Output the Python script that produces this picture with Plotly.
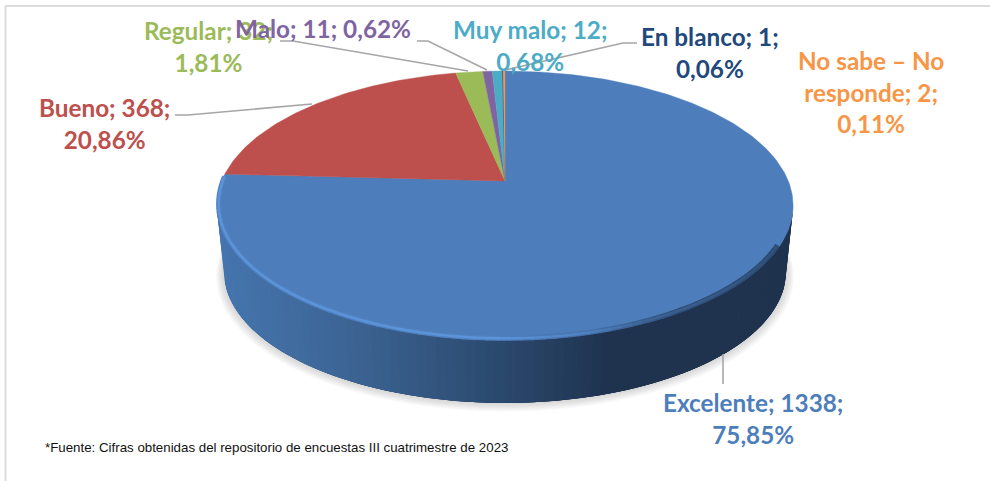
import math
import plotly.graph_objects as go

categories = ["Excelente", "Bueno", "Regular", "Malo", "Muy malo", "En blanco", "No sabe – No responde"]
values = [1338, 368, 32, 11, 12, 1, 2]
percents = ["75,85%", "20,86%", "1,81%", "0,62%", "0,68%", "0,06%", "0,11%"]
colors = ["#4d7ebb", "#bd4f4c", "#9bbb59", "#8064a2", "#4bacc6", "#1f497d", "#f79646"]
label_text = [
    "Excelente; 1338;<br>75,85%",
    "Bueno; 368;<br>20,86%",
    "Regular; 32;<br>1,81%",
    "Malo; 11; 0,62%",
    "Muy malo; 12;<br>0,68%",
    "En blanco; 1;<br>0,06%",
    "No sabe – No<br>responde; 2;<br>0,11%",
]
label_pos = [(753, 418), (104, 123), (208, 46), (323, 28), (530, 45), (710, 52), (871, 92)]
footnote = "*Fuente: Cifras obtenidas del repositorio de encuestas III cuatrimestre de 2023"

CX, CY, A, B, K = 505, 181, 283.3, 130, 0.182
BOTTOM_CY, BOTTOM_S = 248, 0.975


def top(theta):
    u, v = math.sin(theta), math.cos(theta)
    w = 1 + K * v
    return CX + A * u / w, CY - B * v / w


def bottom(theta, s=BOTTOM_S, cy=BOTTOM_CY):
    u, v = math.sin(theta), math.cos(theta)
    w = 1 + K * v
    return CX + s * A * u / w, cy - s * B * v / w


def arc(fn, t0, t1, n=360):
    steps = max(2, int(abs(t1 - t0) / (2 * math.pi) * n) + 1)
    pts = [fn(t0 + (t1 - t0) * i / steps) for i in range(steps + 1)]
    return [p[0] for p in pts], [p[1] for p in pts]


def lerp_color(stops, x):
    for (x0, c0), (x1, c1) in zip(stops, stops[1:]):
        if x <= x1:
            f = max(0, (x - x0) / (x1 - x0))
            break
    else:
        c0 = c1 = stops[-1][1]
        f = 0
    return "rgb(%d,%d,%d)" % tuple(c0[i] + (c1[i] - c0[i]) * f for i in range(3))


fig = go.Figure()


def add(x, y, **kw):
    kw.setdefault("mode", "lines")
    kw.setdefault("hoverinfo", "skip")
    kw.setdefault("showlegend", False)
    fig.add_trace(go.Scatter(x=x, y=y, **kw))


# soft shadow under the disc
for i in range(7):
    s = BOTTOM_S + 0.004 * (7 - i)
    xs, ys = arc(lambda t: bottom(t, s, BOTTOM_CY + 0.6 * (7 - i)), 0, 2 * math.pi)
    add(xs, ys, fill="toself", fillcolor="rgba(120,120,120,0.045)", line=dict(width=0))

# side wall: solid underlay, then overlapping strips of a gradient along the front
side_stops = [(215, (70, 118, 176)), (350, (61, 101, 149)), (500, (44, 74, 111)),
              (620, (31, 50, 78)), (800, (31, 50, 78))]
N = 96
t_start = math.pi * 0.5 + math.asin(K)
t_end = math.pi * 1.5 - math.asin(K)
xa, ya = arc(top, t_start, t_end)
xb, yb = arc(bottom, t_end, t_start)
add(xa + xb, ya + yb, fill="toself", fillcolor="rgb(50,84,124)", line=dict(width=0))
for i in range(N):
    t0 = t_start + (t_end - t_start) * i / N
    t1 = min(t_end, t_start + (t_end - t_start) * (i + 3) / N)
    xa, ya = arc(top, t0, t1)
    xb, yb = arc(bottom, t1, t0)
    col = lerp_color(side_stops, top(t0)[0])
    add(xa + xb, ya + yb, fill="toself", fillcolor=col, line=dict(width=0))

# top face: wedges, clockwise from twelve o'clock
total = sum(values)
angle = 0.0
for name, val, col in zip(categories, values, colors):
    end = angle + val / total * 2 * math.pi
    xs, ys = arc(top, angle, end)
    add([CX] + xs + [CX], [CY] + ys + [CY], fill="toself", fillcolor=col,
        line=dict(width=0.4, color=col), name=name)
    angle = end

# bevel highlight round the front rim of the first wedge: a soft band and a bright core
outer_stops = [(215, (80, 130, 194)), (500, (80, 130, 194)), (600, (70, 112, 168)),
               (680, (48, 80, 122)), (800, (44, 74, 114))]
core_stops = [(215, (92, 148, 218)), (500, (92, 148, 218)), (590, (80, 130, 194)),
              (650, (62, 100, 150)), (800, (46, 78, 118))]
M = 80
t_rim0 = t_start + 0.3
t_rim1 = 3 * math.pi / 2 + 0.02


def rim(t):
    p = top(t)
    return p[0] + (CX - p[0]) * 0.006, p[1] - 1.6


for stops, width in [(outer_stops, 5.0), (core_stops, 2.4)]:
    for i in range(M):
        t0 = t_rim0 + (t_rim1 - t_rim0) * i / M
        t1 = t_rim0 + (t_rim1 - t_rim0) * (i + 1.1) / M
        xs, ys = arc(rim, t0, t1)
        add(xs, ys, line=dict(width=width, color=lerp_color(stops, xs[0])))

# leader lines
leaders = [
    ([175, 188, 312], [115, 115, 104]),
    ([280, 293, 468], [41, 41, 71]),
    ([417, 428, 487], [41, 41, 70]),
    ([637, 623, 505], [43, 43, 70]),
    ([723, 723], [354, 384]),
]
for lx, ly in leaders:
    add(lx, ly, line=dict(color="#a6a6a6", width=1.6))

annotations = []
for text, (x, y), col in zip(label_text, label_pos, colors):
    annotations.append(dict(x=x, y=y, xref="x", yref="y", text=f"<b>{text}</b>", showarrow=False,
                            font=dict(family="Lato", size=24.3, color=col), align="center"))
annotations.append(dict(x=276, y=447, xref="x", yref="y", text=footnote, showarrow=False,
                        font=dict(family="Liberation Sans", size=13.3, color="#111111")))

frame = [
    dict(type="line", x0=5, x1=990, y0=6, y1=6, line=dict(color="#dcdcdc", width=2)),
    dict(type="line", x0=5.5, x1=5.5, y0=6, y1=481, line=dict(color="#dcdcdc", width=2)),
]

fig.update_layout(
    width=990, height=481, margin=dict(l=0, r=0, t=0, b=0),
    paper_bgcolor="white", plot_bgcolor="white", showlegend=False,
    xaxis=dict(range=[0, 990], visible=False, fixedrange=True),
    yaxis=dict(range=[481, 0], visible=False, fixedrange=True),
    annotations=annotations, shapes=frame,
)
fig.write_html("out.html", post_script="document.body.style.margin='0';",
               config={"displayModeBar": False})
